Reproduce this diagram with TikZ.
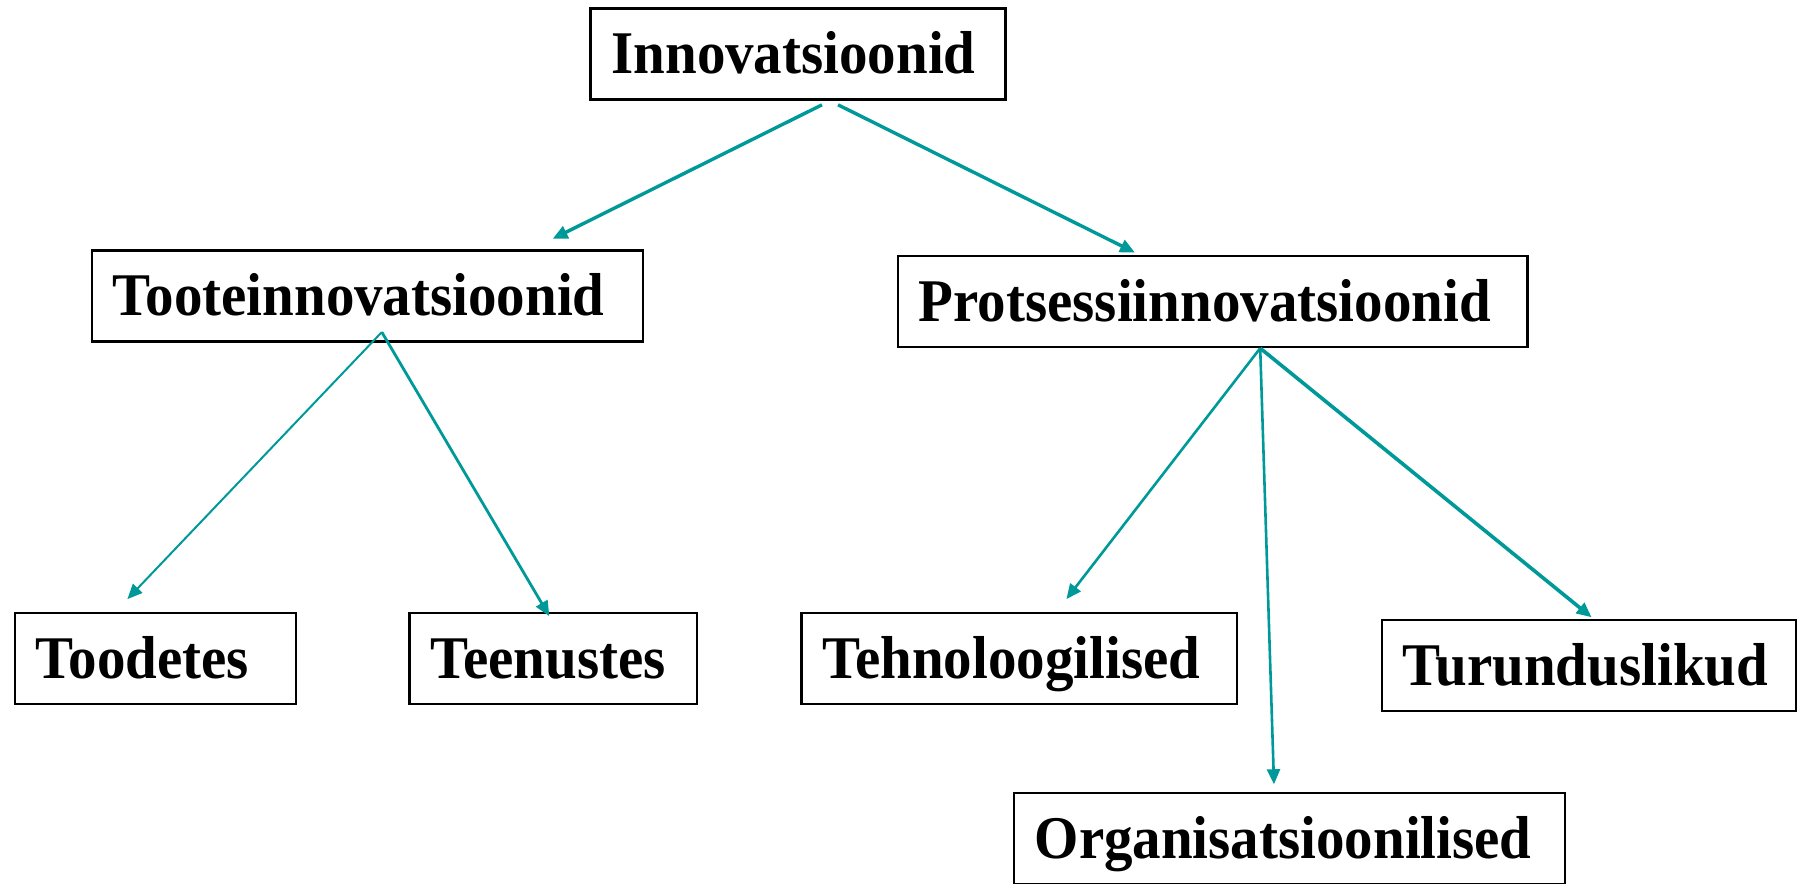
\documentclass[tikz,border=0pt]{standalone}
\usepackage{fontspec}
\setmainfont{Liberation Serif}[FakeStretch=0.94]
\usetikzlibrary{arrows.meta}
\definecolor{tealline}{RGB}{0,153,153}
\begin{document}
\begin{tikzpicture}[x=0.5pt, y=-0.5pt,
  box/.style={draw, line width=1.1pt, inner xsep=10.5pt, inner ysep=0pt,
    text height=20pt, text depth=0pt, minimum height=45.5pt,
    align=left, text width=#1, font=\fontsize{30.3}{36}\selectfont\bfseries},
  arr/.style={-{Triangle[length=7.5pt, width=6.5pt]}, tealline, line width=#1},
  arr/.default=1.2pt]

  \useasboundingbox[fill=white] (0,0) rectangle (1798,883);

  % Top level
  \node[box=186.5pt] (innov) at (798, 54) {Innovatsioonid};

  % Second level
  \node[box=254.6pt] (toote) at (367.4, 295.9) {Tooteinnovatsioonid};
  \node[box=293.8pt] (prots) at (1212.6, 301.6) {Protsessiinnovatsioonid};

  % Third level
  \node[box=119.5pt] (toodetes) at (155.4, 658.3) {Toodetes};
  \node[box=122.9pt] (teenustes) at (553.3, 658.3) {Teenustes};
  \node[box=196.9pt] (tehno) at (1019.4, 658.3) {Tehnoloogilised};
  \node[box=186pt] (turundus) at (1588.8, 665.1) {Turunduslikud};
  \node[box=254.8pt] (organis) at (1289.5, 838.8) {Organisatsioonilised};

  % Arrows from the top box
  \draw[arr=1.7pt] ([xshift=12pt, yshift=-2.1pt]innov.south) -- ([xshift=92.6pt, yshift=5.2pt]toote.north);
  \draw[arr=1.7pt] ([xshift=20pt, yshift=-2.1pt]innov.south) -- ([xshift=-38.8pt, yshift=1.2pt]prots.north);

  % Arrows from Tooteinnovatsioonid
  \draw[arr=1pt] ([xshift=7.2pt, yshift=5.2pt]toote.south) -- ([xshift=-14pt, yshift=6.3pt]toodetes.north);
  \draw[arr=1.4pt] ([xshift=7.2pt, yshift=5.2pt]toote.south) -- ([xshift=-2pt, yshift=-2.2pt]teenustes.north);

  % Arrows from Protsessiinnovatsioonid
  \draw[arr=1.3pt] ([xshift=23.8pt]prots.south) -- ([xshift=23.5pt, yshift=6.3pt]tehno.north);
  \draw[arr=1.3pt] ([xshift=23.8pt]prots.south) -- ([xshift=-7.75pt, yshift=4pt]organis.north);
  \draw[arr=1.8pt] ([xshift=23.8pt]prots.south) -- ([xshift=1.4pt, yshift=0.6pt]turundus.north);

\end{tikzpicture}
\end{document}
